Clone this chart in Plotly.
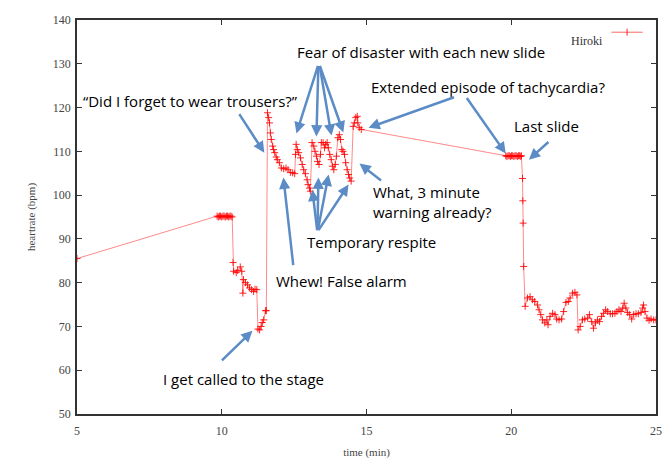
import plotly.graph_objects as go

# ---- data (time in minutes, heart rate in bpm) ----
time_min = [
    5.00,
    9.84, 9.88, 9.92, 9.96, 10.00, 10.04, 10.08, 10.12, 10.16, 10.20, 10.24, 10.28, 10.32, 10.36,
    10.39, 10.41, 10.50, 10.55, 10.64, 10.69, 10.73, 10.75, 10.82, 10.89, 10.96, 11.03, 11.10,
    11.15, 11.21, 11.25, 11.31, 11.36, 11.40, 11.45, 11.51, 11.54,
    11.58, 11.62, 11.65, 11.68, 11.71, 11.76, 11.79, 11.83, 11.88, 11.92, 11.99, 12.06, 12.14,
    12.22, 12.29, 12.37, 12.45, 12.52, 12.55, 12.57, 12.61, 12.66, 12.72, 12.78, 12.83, 12.89,
    12.95, 12.98, 13.03, 13.06, 13.12, 13.18, 13.22, 13.27, 13.31, 13.36, 13.41, 13.44, 13.50,
    13.55, 13.59, 13.64, 13.68, 13.73, 13.78, 13.82, 13.87, 13.92, 13.96, 14.01, 14.06, 14.10,
    14.15, 14.19, 14.24, 14.28, 14.33, 14.38, 14.42, 14.47, 14.54, 14.58, 14.63, 14.68, 14.70,
    14.75, 14.82,
    19.81, 19.85, 19.89, 19.93, 19.97, 20.01, 20.05, 20.09, 20.13, 20.17, 20.21, 20.25, 20.29,
    20.33, 20.35,
    20.39, 20.40, 20.41, 20.43, 20.48,
    20.56, 20.65, 20.73, 20.81, 20.91, 20.96, 21.02, 21.08, 21.16, 21.23, 21.27, 21.34, 21.43,
    21.51, 21.57, 21.65, 21.74, 21.81, 21.89, 21.97, 22.03, 22.12, 22.20, 22.27, 22.31, 22.38,
    22.46, 22.54, 22.64, 22.70, 22.78, 22.84, 22.91, 22.98, 23.05, 23.12, 23.19, 23.26, 23.33,
    23.42, 23.50, 23.58, 23.65, 23.72, 23.79, 23.85, 23.90, 23.96, 24.02, 24.09, 24.16, 24.23,
    24.31, 24.39, 24.48, 24.54, 24.57, 24.62, 24.69, 24.76, 24.83, 24.92, 25.00,
]
heartrate_bpm = [
    85.5,
    95.2, 95.0, 95.2, 95.2, 95.0, 95.2, 95.2, 95.0, 95.2, 95.2, 95.0, 95.2, 95.2, 95.0,
    84.6, 82.6, 82.3, 82.8, 83.6, 82.6, 77.6, 80.7, 80.0, 79.5, 78.8, 78.4, 78.0,
    78.5, 78.4, 69.4, 69.2, 70.0, 70.9, 71.5, 73.6, 73.6,
    118.8, 117.7, 116.5, 114.2, 112.7, 111.2, 110.4, 109.7, 108.7, 108.1, 107.4, 106.2, 106.0,
    106.2, 105.8, 105.2, 105.1, 104.9, 109.3, 111.6, 110.4, 109.7, 108.5, 107.0, 105.8, 104.9,
    103.5, 102.4, 101.6, 100.9, 112.0, 111.2, 110.0, 108.9, 107.7, 107.0, 109.3, 112.0, 112.0,
    110.8, 111.6, 112.0, 110.8, 109.3, 108.1, 106.6, 105.8, 107.0, 108.9, 113.1, 113.8, 112.7,
    110.4, 110.0, 109.3, 107.4, 105.8, 104.7, 103.9, 103.2, 115.7, 116.5, 117.7, 118.0, 116.5,
    115.4, 115.0,
    109.0, 108.8, 109.0, 109.0, 108.8, 109.0, 109.0, 108.8, 109.0, 109.0, 108.8, 109.0, 109.0,
    108.8, 109.0,
    103.8, 98.7, 93.6, 83.7, 74.6,
    76.5, 76.8, 76.1, 75.7, 74.9, 73.8, 72.7, 71.5, 70.8, 71.5, 70.4, 72.3, 73.0,
    72.7, 71.7, 71.5, 71.7, 73.4, 75.5, 75.7, 76.5, 77.6, 77.8, 77.2, 69.2, 70.0,
    71.5, 71.7, 71.9, 72.7, 71.1, 69.6, 70.8, 71.5, 71.1, 72.3, 73.0, 73.8, 73.4,
    72.9, 72.9, 73.0, 73.4, 73.8, 73.4, 74.2, 75.3, 74.2, 73.2, 72.7, 71.7, 72.7,
    72.9, 72.9, 73.2, 74.2, 74.9, 73.4, 71.9, 71.4, 71.7, 71.5, 71.5,
]
series_name = "Hiroki"
x_ticks = [5, 10, 15, 20, 25]
y_ticks = [50, 60, 70, 80, 90, 100, 110, 120, 130, 140]

# ---- annotation texts (label, x, y) ----
labels = [
    ("\u201cDid I forget to wear trousers?\u201d", 8.91, 121.6),
    ("Fear of disaster with each new slide", 16.87, 132.8),
    ("Extended episode of tachycardia?", 19.19, 124.6),
    ("Last slide", 21.23, 115.7),
    ("Temporary respite", 15.17, 89.3),
    ("Whew! False alarm", 14.13, 80.4),
    ("I get called to the stage", 10.74, 58.0),
]
# arrows: head (x, y) in data units, tail offset in pixels
arrows = [
    (11.47, 109.7, -26, -40),
    (12.58, 114.1, 22, -69),
    (13.27, 113.4, 2, -72),
    (13.79, 113.6, -12, -71),
    (14.20, 114.3, -24, -68),
    (15.07, 115.4, 87, -31),
    (19.81, 109.5, -40, -57),
    (20.61, 108.1, 21, -19),
    (14.76, 107.2, 23, 18),
    (13.13, 101.2, 5, 42),
    (13.34, 104.0, -1, 54),
    (13.69, 104.7, -11, 57),
    (14.38, 102.4, -31, 47),
    (12.13, 104.0, 10, 89),
    (11.06, 69.0, -32, 31),
]

fig = go.Figure()
fig.add_trace(go.Scatter(
    x=time_min, y=heartrate_bpm, mode="lines+markers", name=series_name,
    line=dict(color="rgba(255,40,40,0.55)", width=1),
    marker=dict(symbol="cross-thin", size=5, line=dict(color="rgba(255,0,0,0.85)", width=1)),
    showlegend=False,
))

ann_font = dict(family="Open Sans, Noto Sans, sans-serif", size=15, color="black")
for text, x, y in labels:
    fig.add_annotation(x=x, y=y, text=text, showarrow=False, font=ann_font)
fig.add_annotation(x=15.14, y=98.5, text="What, 3 minute<br>warning already?", showarrow=False,
                   font=ann_font, xanchor="left", align="left")

for hx, hy, ax, ay in arrows:
    fig.add_annotation(x=hx, y=hy, ax=ax, ay=ay, text="", showarrow=True,
                       arrowhead=2, arrowsize=0.9, arrowwidth=2.5, arrowcolor="#5b8cc6",
                       standoff=0, startstandoff=0)

# legend drawn manually (text left of sample)
fig.add_annotation(xref="paper", yref="paper", x=0.912, y=0.969, text=series_name,
                   showarrow=False, xanchor="right",
                   font=dict(family="Liberation Serif, serif", size=12, color="#333"))
fig.add_shape(type="line", xref="paper", yref="paper", x0=0.923, x1=0.977, y0=0.969, y1=0.969,
              line=dict(color="rgba(255,40,40,0.7)", width=1))
fig.add_shape(type="line", xref="paper", yref="paper", x0=0.950, x1=0.950, y0=0.960, y1=0.978,
              line=dict(color="rgba(255,0,0,0.85)", width=1))

axis_font = dict(family="Liberation Serif, serif", size=12, color="#444")
title_font = dict(family="Liberation Serif, serif", size=11, color="#444")
fig.update_xaxes(range=[5, 25], tickvals=x_ticks, ticks="inside", ticklen=5, tickcolor="#333",
                 showline=True, linecolor="#333", linewidth=1.5, mirror="ticks", showgrid=False,
                 zeroline=False, tickfont=axis_font, automargin=False, ticklabelstandoff=5,
                 title=dict(text="time (min)", font=title_font, standoff=12))
fig.update_yaxes(range=[50, 140], tickvals=y_ticks, ticks="inside", ticklen=5, tickcolor="#333",
                 showline=True, linecolor="#333", linewidth=1.5, mirror="ticks", showgrid=False,
                 zeroline=False, tickfont=axis_font, automargin=False, ticklabelstandoff=2,
                 title=dict(text="heartrate (bpm)", font=title_font, standoff=15))
fig.update_layout(width=656, height=451, margin=dict(l=69, r=8, t=12, b=45),
                  plot_bgcolor="white", paper_bgcolor="white")
fig.write_html("out.html")
